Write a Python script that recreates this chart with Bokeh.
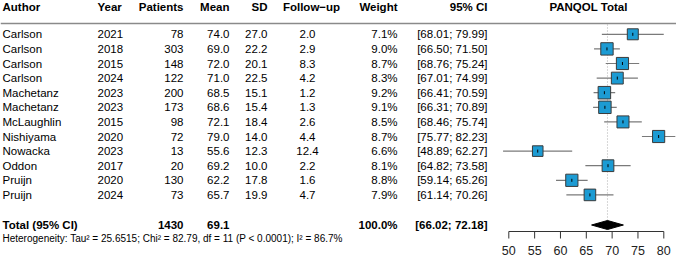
import math
from bokeh.plotting import figure
from bokeh.models import Range1d, ColumnDataSource
from bokeh.embed import file_html
from bokeh.resources import INLINE
from bokeh.core.properties import value

# ---------------- data ----------------
authors = ["Carlson", "Carlson", "Carlson", "Carlson", "Machetanz", "Machetanz",
           "McLaughlin", "Nishiyama", "Nowacka", "Oddon", "Pruijn", "Pruijn"]
years = [2021, 2018, 2015, 2024, 2023, 2023, 2015, 2020, 2023, 2017, 2020, 2024]
patients = [78, 303, 148, 122, 200, 173, 98, 72, 13, 20, 130, 73]
means = [74.0, 69.0, 72.0, 71.0, 68.5, 68.6, 72.1, 79.0, 55.6, 69.2, 62.2, 65.7]
sds = [27.0, 22.2, 20.1, 22.5, 15.1, 15.4, 18.4, 14.0, 12.3, 10.0, 17.8, 19.9]
followup = [2.0, 2.9, 8.3, 4.2, 1.2, 1.3, 2.6, 4.4, 12.4, 2.2, 1.6, 4.7]
weights = [7.1, 9.0, 8.7, 8.3, 9.2, 9.1, 8.5, 8.7, 6.6, 8.1, 8.8, 7.9]
ci_low = [68.01, 66.50, 68.76, 67.01, 66.41, 66.31, 68.46, 75.77, 48.89, 64.82, 59.14, 61.14]
ci_high = [79.99, 71.50, 75.24, 74.99, 70.59, 70.89, 75.74, 82.23, 62.27, 73.58, 65.26, 70.26]

total_label = "Total (95% CI)"
total_patients = 1430
total_mean = 69.1
total_weight = 100.0
total_low = 66.02
total_high = 72.18
heterogeneity = "Heterogeneity: Tau\u00b2 = 25.6515; Chi\u00b2 = 82.79, df = 11 (P < 0.0001); I\u00b2 = 86.7%"

headers = ["Author", "Year", "Patients", "Mean", "SD", "Follow\u2212up", "Weight", "95% CI", "PANQOL Total"]
ticks = [50, 55, 60, 65, 70, 75, 80]

# ---------------- layout ----------------
W, H = 676, 259
FONT = value("Liberation Sans")
FS = "11.5px"
row0, dy = 33.8, 14.6
ys = [row0 + i * dy for i in range(len(authors))]
y_total = 224.5
y_het = 237.5
y_head = 6.5
y_rule = 23
y_axis = 231

p = figure(width=W, height=H, x_range=Range1d(0, W), y_range=Range1d(H, 0),
           output_backend="svg", toolbar_location=None, min_border=0,
           x_axis_location=None, y_axis_location=None)
p.outline_line_color = None
p.grid.visible = False
p.background_fill_color = "white"
p.border_fill_color = "white"

# forest scale: 50 -> 508.3 px, 80 -> 663.3 px
ppu = (663.3 - 508.3) / 30.0
f_start = 50 - 508.3 / ppu
f_end = 80 + (W - 663.3) / ppu
p.extra_x_ranges = {"f": Range1d(f_start, f_end)}

# column positions (screen px) and alignments
cols = [(2, "left"), (97, "left"), (183, "right"), (229, "right"), (267, "right"),
        (307, "center"), (397, "right"), (487, "right"), (588, "center")]
head_x = [2, 97, 183, 229, 267, 311, 397, 487, 588]

def put(x, y, texts, align, bold=False, size=FS, color="black"):
    src = ColumnDataSource(dict(x=[x] * len(texts), y=y, t=texts))
    p.text(x="x", y="y", text="t", source=src, text_font=FONT, text_font_size=size,
           text_align=align, text_baseline="middle", text_color=color,
           text_font_style="bold" if bold else "normal")

# header
for hx, (x, al), h in zip(head_x, cols, headers):
    put(hx, [y_head], [h], al, bold=True)
p.segment(x0=[0], x1=[W], y0=[y_rule], y1=[y_rule], line_color="#8a8a8a", line_width=1.6)

# table rows
col_texts = [
    authors,
    [str(v) for v in years],
    [str(v) for v in patients],
    [f"{v:.1f}" for v in means],
    [f"{v:.1f}" for v in sds],
    [f"{v:.1f}" for v in followup],
    [f"{v:.1f}%" for v in weights],
    [f"[{a:.2f}; {b:.2f}]" for a, b in zip(ci_low, ci_high)],
]
for (x, al), texts in zip(cols[:8], col_texts):
    put(x, ys, texts, al)

# total row
put(cols[0][0], [y_total], [total_label], "left", bold=True)
put(cols[2][0], [y_total], [str(total_patients)], "right", bold=True)
put(cols[3][0], [y_total], [f"{total_mean:.1f}"], "right", bold=True)
put(cols[6][0], [y_total], [f"{total_weight:.1f}%"], "right", bold=True)
put(cols[7][0], [y_total], [f"[{total_low:.2f}; {total_high:.2f}]"], "right", bold=True)
put(2, [y_het], [heterogeneity], "left", size="10px")

# forest: reference line
p.segment(x0=[total_mean], x1=[total_mean], y0=[y_rule + 1], y1=[y_total + 4],
          x_range_name="f", line_color="#b0b0b0", line_dash="1 2", line_width=1)

# CI lines
p.segment(x0=ci_low, x1=ci_high, y0=ys, y1=ys, x_range_name="f",
          line_color="#7a7a7a", line_width=1.2)
# squares
sizes = [12.5 * math.sqrt(w / 9.2) for w in weights]
p.scatter(x=means, y=ys, size=sizes, marker="square", x_range_name="f",
          fill_color="#1C9BD3", line_color="#3a3a3a", line_width=1)
p.scatter(x=means, y=ys, size=3, marker="dash", angle=math.pi / 2, x_range_name="f",
          line_color="black", line_width=1)

# diamond
p.patch(x=[total_low, total_mean, total_high, total_mean],
        y=[y_total, y_total - 4.5, y_total, y_total + 4.5],
        x_range_name="f", fill_color="black", line_color="black")

# axis
p.segment(x0=[ticks[0]], x1=[ticks[-1]], y0=[y_axis], y1=[y_axis], x_range_name="f",
          line_color="#333333", line_width=1)
p.segment(x0=ticks, x1=ticks, y0=[y_axis] * len(ticks), y1=[y_axis + 7] * len(ticks),
          x_range_name="f", line_color="#333333", line_width=1)
tsrc = ColumnDataSource(dict(x=ticks, y=[250] * len(ticks), t=[str(t) for t in ticks]))
p.text(x="x", y="y", text="t", source=tsrc, x_range_name="f", text_font=FONT,
       text_font_size="12.5px", text_align="center", text_baseline="middle", text_color="#222222")

open("out.html", "w").write(file_html(p, INLINE))
